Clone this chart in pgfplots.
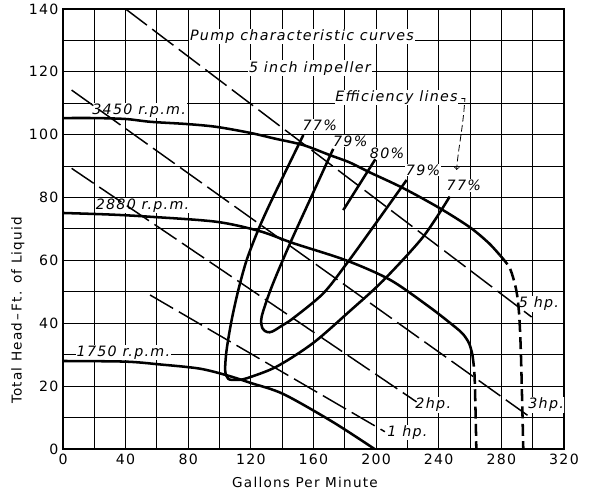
\documentclass[border=0pt]{standalone}
\usepackage{fontspec}
\setmainfont{DejaVu Sans}
\newfontfamily\lblfont[LetterSpace=9]{DejaVu Sans}
\usepackage{pgfplots}
\pgfplotsset{compat=1.18}
\tikzset{
  lab/.style={font=\fontsize{10.7}{12}\selectfont\lblfont\itshape, fill=white, inner sep=0.6pt},
  rpm/.style={black, line width=1.9pt, smooth, tension=0.5},
  rpmd/.style={black, line width=1.9pt, smooth, tension=0.5, dash pattern=on 9pt off 4pt},
  eff/.style={black, line width=1.9pt, smooth, tension=0.5},
  hp/.style={black, line width=1.1pt, dash pattern=on 20pt off 5pt},
}
\begin{document}
\begin{tikzpicture}
\begin{axis}[
  scale only axis, width=375.75pt, height=330pt,
  xmin=0, xmax=320, ymin=0, ymax=140,
  xtick={0,40,...,320}, minor xtick={20,60,...,300},
  ytick={0,20,...,140}, minor ytick={10,30,...,130},
  grid=both,
  major grid style={black, line width=0.75pt},
  minor grid style={black, line width=0.75pt},
  axis line style={black, line width=1.4pt},
  major tick length=0pt, minor tick length=0pt,
  tick label style={font=\fontsize{10.6}{12}\selectfont\lblfont},
  /pgf/number format/assume math mode=true,
  xlabel={Gallons Per Minute},
  ylabel={Total Head\,–\,Ft. of Liquid},
  label style={font=\fontsize{10.2}{12}\selectfont\lblfont},
  xlabel style={at={(axis description cs:0.483,-0.077)}, anchor=center},
  ylabel style={at={(axis description cs:-0.09,0.315)}, anchor=center},
]
\coordinate (bl) at (rel axis cs:0,0);
% annotation labels (drawn first so curves lie over their white boxes)
\node[lab] at (axis cs:152.6,131.3) {Pump characteristic curves};
\node[lab] at (axis cs:157.7,121.2) {5 inch impeller};
\node[lab] at (axis cs:213,111.8) {Efficiency lines};
\node[lab] at (axis cs:48.6,107.8) {3450 r.p.m.};
\node[lab] at (axis cs:50.8,77.5) {2880 r.p.m.};
\node[lab] at (axis cs:38.6,30.7) {1750 r.p.m.};
\node[lab] at (axis cs:164,103) {77\%};
\node[lab] at (axis cs:183.5,98) {79\%};
\node[lab] at (axis cs:207,94) {80\%};
\node[lab] at (axis cs:230,88.8) {79\%};
\node[lab] at (axis cs:256,83.8) {77\%};
\node[lab] at (axis cs:304,46.2) {5 hp.};
\node[lab] at (axis cs:308.6,14) {3hp.};
\node[lab] at (axis cs:236.5,14) {2hp.};
\node[lab] at (axis cs:220,5.2) {1 hp.};
\draw[black, line width=0.6pt, dash pattern=on 5pt off 2.5pt, ->]
  (axis cs:254.5,111.5) -- (axis cs:256.7,111.5) .. controls (axis cs:255.5,102) and (axis cs:252.5,96) .. (axis cs:251.4,88.8);
% power lines
\addplot[hp] coordinates {(40,140) (299.3,42)};
\addplot[hp] coordinates {(5.5,114.2) (299.3,9.8)};
\addplot[hp] coordinates {(5.5,89.3) (225.8,15)};
\addplot[hp] coordinates {(55.6,49) (205.6,5.5)};
% 3450 rpm
\addplot[rpm] coordinates {(0,105.3) (20,105.3) (40,105) (56,104.1) (79,103.4) (98,102.5) (119.4,100.6) (135,98.8) (153.5,96.7) (170.5,93.5) (183,91.2) (196,88) (217.3,83) (240.7,76.6) (260,70.5) (272,65.5) (279,61.7)};
\addplot[rpmd] coordinates {(279,61.7) (285.4,57.5) (289.5,50.6) (291.3,43) (292.5,30) (294,0)};
% 2880 rpm
\addplot[rpm] coordinates {(0,75.1) (30,74.6) (55.6,73.9) (98,72.3) (125.8,69.3) (147,65.5) (181,60) (209,53.8) (234,45.2) (250,39) (255.6,36.5) (259.5,33.5) (261.5,30)};
\addplot[rpmd] coordinates {(261.5,30) (262.8,24) (263.5,12) (264,0)};
% 1750 rpm
\addplot[rpm] coordinates {(0,28) (40,27.8) (62,26.9) (87,25.6) (105,23.4) (120,21) (140.7,17.5) (172,8.7) (199,0)};
% efficiency lines
\addplot[eff] coordinates {(153.5,99.9) (133.3,79.2) (124.7,69.7) (117.3,60.1) (112,50.6) (107.7,41) (104.5,31.5) (103.6,25) (105.6,22.3) (111,22) (117.3,22.5) (136.4,26.2) (159.7,33.7) (183,43.8) (204.5,53.6) (230,67.5) (247,80.3)};
\addplot[eff] coordinates {(172.6,95.5) (158,79.6) (145,65.4) (133.3,51.6) (126.9,42.1) (127.4,38.4) (130.5,37.2) (133.8,37.4) (140,39.3) (147,41.6) (166.2,49.5) (181.2,59) (198.2,70.7) (219.5,85.6)};
\addplot[eff] coordinates {(179,76) (199.5,92.2)};
\end{axis}
\pgfresetboundingbox
\path (bl) ++(-47.25pt,-32.25pt) rectangle ++(444pt,369pt);
\end{tikzpicture}
\end{document}
